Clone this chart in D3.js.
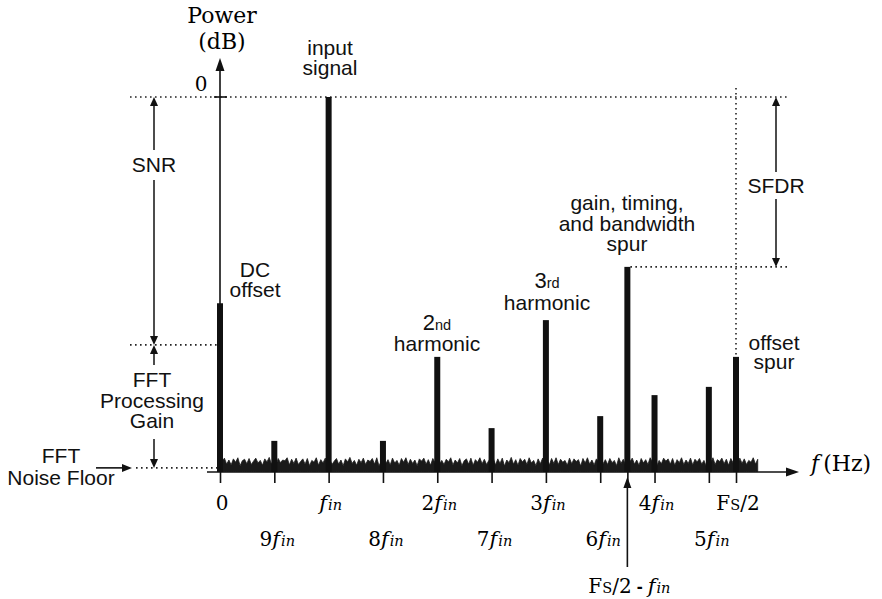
<!DOCTYPE html>
<html><head><meta charset="utf-8">
<script src="https://cdn.jsdelivr.net/npm/d3@7"></script>
<style>body{margin:0;background:#fff}svg{display:block}</style>
</head><body>
<svg id="chart" width="882" height="599"></svg>
<script>
// ---- data ----
const categories = ["DC", "9fin", "fin", "8fin", "2fin", "7fin", "3fin", "6fin", "Fs/2-fin", "4fin", "5fin", "Fs/2"];
const freqs      = [0, 0.5, 1, 1.5, 2, 2.5, 3, 3.5, 3.75, 4, 4.5, 4.75];          // in units of f_in
const powerDb    = [-55, -91.7, 0, -91.7, -69.3, -88.3, -59.5, -85.1, -45.3, -79.5, -77.3, -69.3];
const snrLevel = -66.1;
const noiseFloorLevel = -98.9;
const sfdrLevel = -45.3;
const noiseStart = 0.02, noiseEnd = 4.95;
const noiseDb = [
-97.2,-96.3,-97.9,-96.8,-98.1,-96.5,-97.4,-96.2,-98.3,-97.0,
-96.6,-97.8,-96.4,-98.0,-97.1,-96.3,-97.6,-96.9,-98.2,-96.5,
-97.3,-96.1,-97.9,-96.7,-98.4,-96.4,-97.5,-96.8,-97.0,-96.2,
-98.1,-96.6,-97.7,-96.3,-98.0,-97.2,-96.5,-97.9,-96.4,-98.3,
-96.9,-97.4,-96.2,-98.2,-96.7,-97.6,-96.3,-97.8,-96.6,-98.0,
-97.1,-96.4,-97.9,-96.8,-98.3,-96.5,-97.3,-96.1,-97.7,-96.9,
-98.2,-96.6,-97.5,-96.3,-98.0,-96.8,-97.2,-96.4,-97.9,-96.2,
-98.4,-97.0,-96.5,-97.8,-96.7,-98.1,-96.3,-97.6,-96.9,-98.2,
-96.4,-97.4,-96.2,-98.0,-96.6,-97.7,-96.8,-98.3,-96.5,-97.1,
-96.3,-97.9,-96.7,-98.2,-96.4,-97.5,-96.1,-97.8,-96.9,-98.0,
-96.6,-97.3,-96.2,-98.1,-96.8,-97.6,-96.4,-98.3,-97.0,-96.5,
-97.9,-96.3,-98.2,-96.7,-97.4,-96.2,-97.8,-96.6,-98.0,-96.9,
-97.2,-96.4,-98.1,-96.5,-97.7,-96.3,-98.4,-96.8,-97.5,-96.1,
-97.9,-96.7,-98.2,-96.4,-97.3,-96.6,-98.0,-96.2,-97.6,-96.9,
-98.3,-96.5,-97.8,-96.3,-97.1,-96.8,-98.1,-96.4,-97.7,-96.2,
-98.0,-96.6,-97.4,-96.9,-98.2,-96.3,-97.8,-96.5,-97.2,-96.7,
-98.4,-96.4,-97.6,-96.2,-97.9,-96.8,-98.1,-96.5,-97.3,-96.3,
-97.8,-96.7,-98.0,-96.4,-97.5,-96.9,-98.3,-96.2,-97.7,-96.6,
-98.1,-96.5,-97.2,-96.3,-97.9,-96.8,-98.2,-96.4,-97.6,-96.7,
-98.0,-96.2,-97.4,-96.6,-98.3,-96.9,-97.8,-96.3,-97.1,-96.5,
-97.9,-96.4,-98.2,-96.7,-97.5,-96.2,-98.0,-96.8,-97.7,-96.3,
-98.1,-96.6,-97.3,-96.4,-97.9,-96.9,-98.4,-96.5,-97.6,-96.2,
-98.0,-96.7,-97.2,-96.3,-97.8,-96.6,-98.2,-96.4,-97.5,-96.8,
-98.1,-96.3,-97.7,-96.5,-98.0,-96.9,-97.4,-96.2,-97.9,-96.6];
// tick labels
const tickLabels = [
  {f:0,    text:"0",    kind:"num", row:0},
  {f:1,    text:"",     kind:"fin", row:0},
  {f:2,    text:"2",    kind:"fin", row:0},
  {f:3,    text:"3",    kind:"fin", row:0},
  {f:4,    text:"4",    kind:"fin", row:0},
  {f:4.75, text:"",     kind:"fs2", row:0},
  {f:0.5,  text:"9",    kind:"fin", row:1},
  {f:1.5,  text:"8",    kind:"fin", row:1},
  {f:2.5,  text:"7",    kind:"fin", row:1},
  {f:3.5,  text:"6",    kind:"fin", row:1},
  {f:4.5,  text:"5",    kind:"fin", row:1},
  {f:3.75, text:"",     kind:"fs2fin", row:2}
];

// ---- scales ----
const svg = d3.select("#chart");
const x = d3.scaleLinear().domain([0, 4.75]).range([220, 736]);
const y = d3.scaleLinear().domain([-100, 0]).range([472, 97]);
const x0 = x(0), yBase = y(-100);

const SANS = "'Liberation Sans', Arial, sans-serif";
const SERIF = "'DejaVu Serif', serif";

function tri(g, xt, yt, dir, w, l) {
  w = w || 9; l = l || 9;
  let p;
  if (dir === "up") p = [[xt, yt], [xt - w/2, yt + l], [xt + w/2, yt + l]];
  else if (dir === "down") p = [[xt, yt], [xt - w/2, yt - l], [xt + w/2, yt - l]];
  else if (dir === "right") p = [[xt, yt], [xt - l, yt - w/2], [xt - l, yt + w/2]];
  g.append("path").attr("d", "M" + p.map(d => d.join(",")).join("L") + "Z").attr("fill", "#111");
}
function vline(x1, y1, y2, w) {
  svg.append("line").attr("x1", x1).attr("x2", x1).attr("y1", y1).attr("y2", y2)
    .attr("stroke", "#111").attr("stroke-width", w || 1.5);
}
function dotted(x1, y1, x2, y2) {
  svg.append("line").attr("x1", x1).attr("y1", y1).attr("x2", x2).attr("y2", y2)
    .attr("stroke", "#222").attr("stroke-width", 1.6).attr("stroke-dasharray", "1.6 3.4");
}

// ---- dotted guide lines ----
dotted(130, y(0), 790, y(0));
dotted(130, y(snrLevel), 218, y(snrLevel));
dotted(136, y(noiseFloorLevel), 220, y(noiseFloorLevel));
dotted(x(3.75) + 3, y(sfdrLevel), 790, y(sfdrLevel));
dotted(x(4.75), 88, x(4.75), y(powerDb[11]));

// ---- noise floor ----
const noisePts = noiseDb.map((v, i) => [noiseStart + i * (noiseEnd - noiseStart) / (noiseDb.length - 1), v]);
svg.append("path").datum(noisePts)
  .attr("d", d3.area().x(d => x(d[0])).y0(yBase - 0.5).y1(d => y(d[1])))
  .attr("fill", "#1a1a1a").attr("stroke", "#1a1a1a").attr("stroke-width", 0.8);

// ---- bars ----
svg.append("g").selectAll("rect").data(freqs.map((f, i) => ({f, v: powerDb[i], c: categories[i]})))
  .join("rect")
  .attr("x", d => x(d.f) - 3).attr("width", 6)
  .attr("y", d => y(d.v)).attr("height", d => yBase - y(d.v))
  .attr("fill", "#111");

// ---- x axis ----
const xAxis = svg.append("g").attr("transform", `translate(0,${yBase})`)
  .call(d3.axisBottom(x).tickValues(freqs).tickSize(11).tickFormat(""));
xAxis.select(".domain").remove();
xAxis.selectAll(".tick line").attr("stroke", "#111").attr("stroke-width", 1.6);
svg.append("line").attr("x1", 207).attr("x2", 790).attr("y1", yBase).attr("y2", yBase)
  .attr("stroke", "#111").attr("stroke-width", 1.6);
tri(svg, 799, yBase, "right", 9, 13);

// ---- y axis ----
vline(x0, yBase, 68, 1.6);
tri(svg, x0, 58, "up", 9, 13);
svg.append("line").attr("x1", x0 - 6).attr("x2", x0 + 7).attr("y1", y(0)).attr("y2", y(0))
  .attr("stroke", "#111").attr("stroke-width", 1.6);

// ---- serif axis texts ----
svg.append("text").attr("x", 222).attr("y", 23).attr("text-anchor", "middle")
  .attr("font-family", SERIF).attr("font-size", 22).text("Power");
svg.append("text").attr("x", 222).attr("y", 49).attr("text-anchor", "middle")
  .attr("font-family", SERIF).attr("font-size", 22).text("(dB)");
svg.append("text").attr("x", 201).attr("y", 91).attr("text-anchor", "middle")
  .attr("font-family", SERIF).attr("font-size", 20).text("0");

const fh = svg.append("text").attr("x", 811).attr("y", 471)
  .attr("font-family", SERIF).attr("font-size", 22);
fh.append("tspan").attr("font-style", "italic").text("f");
fh.append("tspan").attr("dx", 4).text("(Hz)");

const rowY = [510, 546, 593];
function addFin(t) {
  t.append("tspan").attr("font-style", "italic").attr("font-size", 21).text("f");
  t.append("tspan").attr("font-style", "italic").attr("font-size", 14.5).attr("dx", 1).text("in");
}
function addFs2(t) {
  t.append("tspan").text("F");
  t.append("tspan").attr("font-size", 14.5).text("S");
  t.append("tspan").text("/2");
}
tickLabels.forEach(d => {
  const t = svg.append("text").attr("x", x(d.f) + (d.row === 1 ? 3 : 2)).attr("y", rowY[d.row])
    .attr("text-anchor", "middle").attr("font-family", SERIF).attr("font-size", 20);
  if (d.kind === "num") t.text(d.text);
  else if (d.kind === "fin") { if (d.text) t.append("tspan").text(d.text); addFin(t); }
  else if (d.kind === "fs2") addFs2(t);
  else if (d.kind === "fs2fin") {
    addFs2(t);
    t.append("tspan").attr("font-family", SANS).attr("font-weight", "bold").attr("font-size", 18).text(" - ");
    addFin(t);
  }
});
// arrow pointing to Fs/2 - fin
vline(x(3.75), 567, 486, 1.6);
tri(svg, x(3.75), 477, "up", 8, 11);

// ---- sans annotations ----
function label(lines, cx, y0, lh) {
  const t = svg.append("text").attr("text-anchor", "middle")
    .attr("font-family", SANS).attr("font-size", 21).attr("fill", "#111");
  lines.forEach((ln, i) => {
    t.append("tspan").attr("x", cx).attr("y", y0 + i * (lh || 20.5)).text(ln);
  });
  return t;
}
label(["input", "signal"], 330, 55, 20);
label(["DC", "offset"], 255, 277, 20);
label(["SNR"], 154, 172);
label(["FFT", "Processing", "Gain"], 152, 387, 20.5);
label(["FFT", "Noise Floor"], 61, 463, 22);
label(["gain, timing,", "and bandwidth", "spur"], 627, 210, 20.5);
label(["SFDR"], 776, 193);
label(["offset", "spur"], 774, 350, 19);
// harmonic labels with ordinal suffix
function ordLabel(num, suf, cx, yb1, yb2) {
  const t = svg.append("text").attr("x", cx).attr("y", yb1).attr("text-anchor", "middle")
    .attr("font-family", SANS).attr("font-size", 22).attr("fill", "#111");
  t.append("tspan").text(num);
  t.append("tspan").attr("font-size", 14.5).text(suf);
  label(["harmonic"], cx, yb2);
}
ordLabel("2", "nd", 437, 330, 351);
ordLabel("3", "rd", 547, 288, 310);

// ---- dimension arrows ----
const sx = 154;
vline(sx, y(0) + 8, 150, 1.5); tri(svg, sx, y(0), "up", 8, 9);
vline(sx, 180, y(snrLevel) - 8, 1.5); tri(svg, sx, y(snrLevel), "down", 8, 9);
vline(sx, y(snrLevel) + 8, 365, 1.5); tri(svg, sx, y(snrLevel), "up", 8, 9);
vline(sx, 439, y(noiseFloorLevel) - 8, 1.5); tri(svg, sx, y(noiseFloorLevel), "down", 8, 9);
svg.append("line").attr("x1", 96).attr("x2", 124).attr("y1", y(noiseFloorLevel)).attr("y2", y(noiseFloorLevel))
  .attr("stroke", "#111").attr("stroke-width", 1.6);
tri(svg, 132, y(noiseFloorLevel), "right", 8, 10);
const fx = 776;
vline(fx, y(0) + 8, 172, 1.5); tri(svg, fx, y(0), "up", 8, 9);
vline(fx, 199, y(sfdrLevel) - 8, 1.5); tri(svg, fx, y(sfdrLevel), "down", 8, 9);
</script>
</body></html>
